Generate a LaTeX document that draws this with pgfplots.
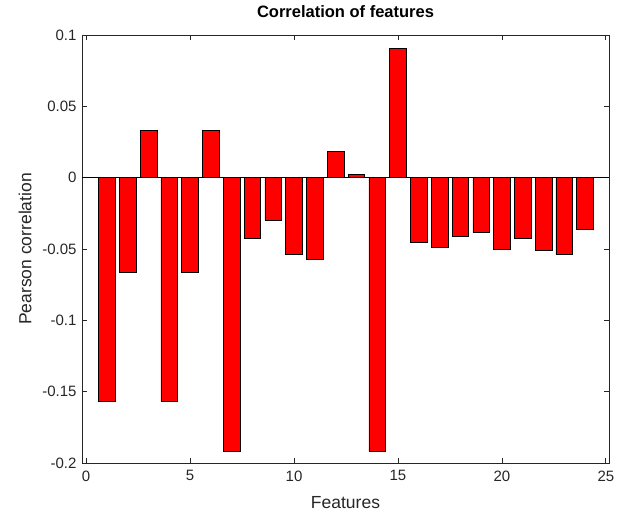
\documentclass[border=0pt]{standalone}
\usepackage{fontspec}
\setmainfont{Liberation Sans}
\usepackage{pgfplots}
\pgfplotsset{compat=1.18}
\definecolor{axgray}{rgb}{0.15,0.15,0.15}

\begin{document}
\begin{tikzpicture}
\begin{axis}[
  at={(0pt,0pt)}, anchor=south west,
  scale only axis,
  width=527pt, height=428pt,
  xmin=-0.2, xmax=25.15,
  ymin=-0.2, ymax=0.1,
  xtick={0,5,10,15,20,25},
  ytick={-0.2,-0.15,-0.1,-0.05,0,0.05,0.1},
  yticklabels={-0.2,-0.15,-0.1,-0.05,0,0.05,0.1},
  /pgf/number format/assume math mode=true,
  tick align=inside,
  major tick length=5pt,
  axis line style={axgray, line width=0.8pt},
  every tick/.style={axgray, line width=0.8pt},
  tick label style={font=\fontsize{15}{17}\selectfont, text=axgray},
  xticklabel style={yshift=-4pt},
  yticklabel style={xshift=-2pt},
  title={\textbf{Correlation of features}},
  title style={font=\fontsize{16.5}{19}\selectfont, at={(axis description cs:0.5,1)}, anchor=center, yshift=17pt},
  xlabel={Features},
  label style={font=\fontsize{17.5}{20}\selectfont, text=axgray},
  xlabel style={at={(axis description cs:0.5,0)}, anchor=center, yshift=-40pt},
  clip=false,
]
\addplot[ybar, bar width=0.8, fill=red, draw=black, line width=0.6pt] coordinates {
  (1,-0.157) (2,-0.0665) (3,0.033) (4,-0.157) (5,-0.0665) (6,0.033)
  (7,-0.192) (8,-0.0425) (9,-0.030) (10,-0.054) (11,-0.057) (12,0.0184)
  (13,0.0025) (14,-0.192) (15,0.0905) (16,-0.045) (17,-0.049) (18,-0.0413)
  (19,-0.0385) (20,-0.0502) (21,-0.0427) (22,-0.0511) (23,-0.054) (24,-0.0364)
};
\addplot[black, line width=0.6pt, no marks] coordinates {(-0.2,0) (25.15,0)};
\end{axis}
\node[rotate=90, font=\fontsize{17.5}{20}\selectfont, text=axgray] at (-57pt,214pt) {Pearson correlation};
\pgfresetboundingbox
\path[use as bounding box] (-82pt,-51pt) rectangle (543pt,463pt);
\end{tikzpicture}
\end{document}
